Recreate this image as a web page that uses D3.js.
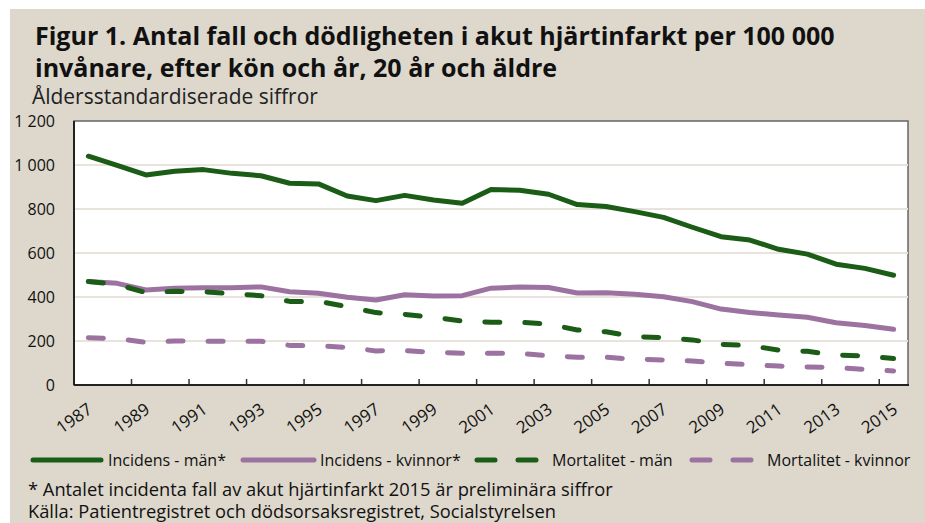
<!DOCTYPE html>
<html><head><meta charset="utf-8">
<script src="https://cdn.jsdelivr.net/npm/d3@7"></script>
<style>
html,body{margin:0;padding:0;background:#fff;}
svg{display:block;}
</style></head>
<body>
<svg id="chart" width="925" height="523"></svg>
<script>
const years = d3.range(1987, 2016);
const tickLabels = years.filter(y => (y - 1987) % 2 === 0).map(String);
const yTicks = [0, 200, 400, 600, 800, 1000, 1200];

const incidensMan = [1040, 998, 955, 972, 979, 962, 951, 917, 914, 859, 838, 862, 841, 826, 889, 885, 867, 820, 811, 788, 762, 717, 674, 659, 617, 595, 549, 530, 499];
const incidensKvinnor = [470, 462, 432, 440, 442, 442, 446, 424, 417, 399, 386, 410, 404, 406, 440, 445, 443, 418, 419, 412, 401, 379, 345, 330, 318, 308, 283, 270, 253];
const mortalitetMan = [470, 457, 420, 426, 424, 415, 406, 380, 380, 356, 329, 321, 308, 291, 285, 285, 277, 250, 242, 220, 215, 205, 185, 179, 159, 153, 136, 132, 120];
const mortalitetKvinnor = [215, 211, 194, 200, 199, 199, 199, 180, 178, 171, 155, 156, 149, 144, 144, 144, 133, 126, 126, 117, 114, 109, 99, 92, 86, 82, 79, 71, 64];

const seriesNames = ["Incidens - män*", "Incidens - kvinnor*", "Mortalitet - män", "Mortalitet - kvinnor"];
const seriesData = [incidensMan, incidensKvinnor, mortalitetMan, mortalitetKvinnor];
const seriesColors = ["#1b5c16", "#9b72a0", "#1b5c16", "#9b72a0"];
const seriesDashed = [false, false, true, true];

const titleLines = ["Figur 1. Antal fall och dödligheten i akut hjärtinfarkt per 100 000",
                    "invånare, efter kön och år, 20 år och äldre"];
const subtitle = "Åldersstandardiserade siffror";
const footLines = ["* Antalet incidenta fall av akut hjärtinfarkt 2015 är preliminära siffror",
                   "Källa: Patientregistret och dödsorsaksregistret, Socialstyrelsen"];

const svg = d3.select("#chart");
const W = 925, H = 523;
const bg = "#ddd7cc";
svg.append("rect").attr("x", 10).attr("y", 9).attr("width", W - 10).attr("height", H - 9).attr("fill", bg);

const titleFont = "'Open Sans', 'DejaVu Sans', sans-serif";
const textFont = "'Open Sans', 'DejaVu Sans', sans-serif";
const axisFont = "'Liberation Sans Narrow', 'Open Sans', sans-serif";

function fitText(sel, targetW) {
  const w = sel.node().getComputedTextLength();
  const fs = parseFloat(sel.attr("font-size"));
  sel.attr("font-size", fs * targetW / w);
}

const t1 = svg.append("text").attr("x", 35).attr("y", 45).attr("font-family", titleFont)
  .attr("font-weight", "bold").attr("font-size", 22).attr("fill", "#111").text(titleLines[0]);
fitText(t1, 800);
svg.append("text").attr("x", 35).attr("y", 77).attr("font-family", titleFont)
  .attr("font-weight", "bold").attr("font-size", t1.attr("font-size")).attr("fill", "#111").text(titleLines[1]);

const st = svg.append("text").attr("x", 32).attr("y", 104).attr("font-family", textFont)
  .attr("font-size", 18).attr("fill", "#222").text(subtitle);
fitText(st, 286);

const m = {left: 74, right: 908, top: 121, bottom: 385};
const x = d3.scalePoint().domain(years).range([m.left, m.right]).padding(0.5);
const y = d3.scaleLinear().domain([0, 1200]).range([m.bottom, m.top]);
const step = x.step();

svg.append("rect").attr("x", m.left).attr("y", m.top).attr("width", m.right - m.left)
  .attr("height", m.bottom - m.top).attr("fill", "#fff").attr("stroke", "#666").attr("stroke-width", 1.5);

// gridlines
svg.append("g").selectAll("line").data(yTicks.filter(v => v > 0 && v < 1200)).join("line")
  .attr("x1", m.left).attr("x2", m.right).attr("y1", d => y(d)).attr("y2", d => y(d))
  .attr("stroke", "#e8e3dc").attr("stroke-width", 2);

// y axis
const yAxis = d3.axisLeft(y).tickValues(yTicks).tickSize(0).tickPadding(0)
  .tickFormat(d => d3.format(",")(d).replace(/,/g, " "));
const yg = svg.append("g").attr("transform", `translate(${m.left - 19},0)`).call(yAxis);
yg.select(".domain").remove();
yg.selectAll("text").attr("font-family", axisFont).attr("font-size", 16).attr("fill", "#111");
svg.append("line").attr("x1", m.left).attr("x2", m.left).attr("y1", m.top).attr("y2", m.bottom)
  .attr("stroke", "#222").attr("stroke-width", 2);

// x axis: tick marks at category boundaries every 2
const boundaries = d3.range(2, years.length, 2).map(i => m.left + i * step);
svg.append("g").selectAll("line").data(boundaries).join("line")
  .attr("x1", d => d).attr("x2", d => d).attr("y1", m.bottom).attr("y2", m.bottom - 6)
  .attr("stroke", "#333").attr("stroke-width", 1.5);
svg.append("line").attr("x1", m.left).attr("x2", m.right + 1).attr("y1", m.bottom).attr("y2", m.bottom)
  .attr("stroke", "#222").attr("stroke-width", 2);

svg.append("g").selectAll("text").data(tickLabels).join("text")
  .attr("transform", d => `translate(${x(+d) + 5},${m.bottom + 27}) rotate(-35)`)
  .attr("text-anchor", "end").attr("font-family", axisFont).attr("font-size", 17).attr("fill", "#111")
  .text(d => d);

// lines
const line = d3.line().x((d, i) => x(years[i])).y(d => y(d));
seriesData.forEach((data, k) => {
  svg.append("path").datum(data).attr("d", line).attr("fill", "none")
    .attr("stroke", seriesColors[k]).attr("stroke-width", 5)
    .attr("stroke-linecap", "round").attr("stroke-linejoin", "round")
    .attr("stroke-dasharray", seriesDashed[k] ? "15,25" : null);
});

// legend
const legY = 460;
const legItems = [
  {x1: 33, x2: 101, tx: 108},
  {x1: 243, x2: 314, tx: 320},
  {x1: 477, x2: 538, tx: 552},
  {x1: 692, x2: 753, tx: 767}
];
legItems.forEach((it, k) => {
  svg.append("line").attr("x1", it.x1).attr("x2", it.x2).attr("y1", legY).attr("y2", legY)
    .attr("stroke", seriesColors[k]).attr("stroke-width", 5).attr("stroke-linecap", "round")
    .attr("stroke-dasharray", seriesDashed[k] ? "18,23" : null);
  svg.append("text").attr("x", it.tx).attr("y", legY + 5.5).attr("font-family", axisFont)
    .attr("font-size", 16).attr("fill", "#111").text(seriesNames[k]);
});

// footer
const f1 = svg.append("text").attr("x", 28).attr("y", 496).attr("font-family", textFont)
  .attr("font-size", 16).attr("fill", "#111").text(footLines[0]);
fitText(f1, 585);
svg.append("text").attr("x", 28).attr("y", 518).attr("font-family", textFont)
  .attr("font-size", f1.attr("font-size")).attr("fill", "#111").text(footLines[1]);
</script>
</body></html>
